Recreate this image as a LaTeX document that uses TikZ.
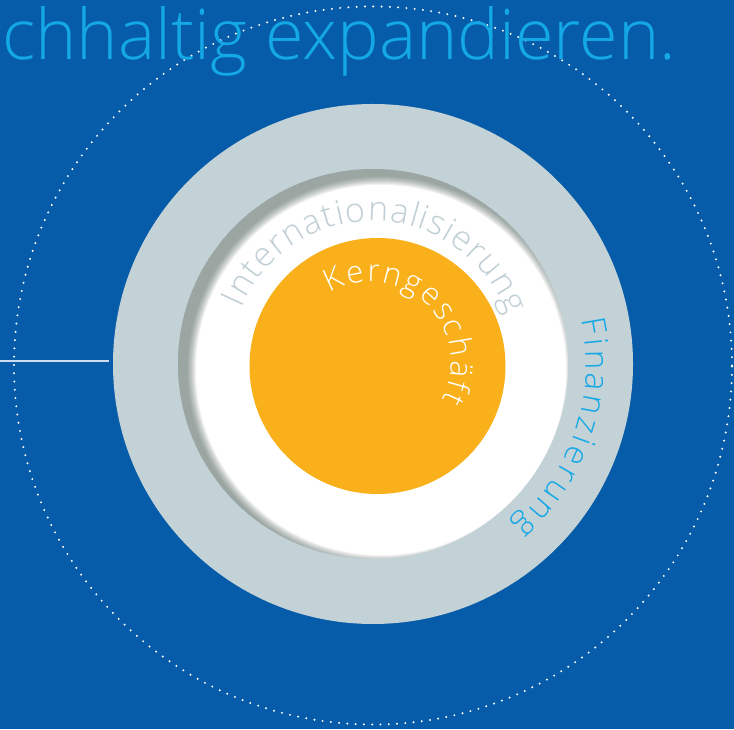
\documentclass[tikz,border=0pt]{standalone}
\usepackage{fontspec}
\usepackage{graphicx}
\newfontfamily\lightfont{Open Sans Light}
\usetikzlibrary{decorations.text}
\definecolor{bgblue}{RGB}{6,92,168}
\definecolor{ringgray}{RGB}{195,210,215}
\definecolor{orangec}{RGB}{249,176,27}
\definecolor{cyanc}{RGB}{20,168,230}
\definecolor{intgray}{RGB}{192,207,213}
\definecolor{shadowc}{RGB}{90,108,102}
\definecolor{linec}{RGB}{205,220,238}
\tikzset{
  disc/.style={circle, inner sep=0pt, draw=none},
  dotring/.style={circle, inner sep=0pt, draw=white, line width=2.2pt, line cap=round, dash pattern=on 0pt off 8.29pt},
  leftline/.style={draw=linec, line width=1.4pt},
  arctext/.style={decorate, decoration={text along path, text align={fit to path}, #1}}
}
\begin{document}
\begin{tikzpicture}[x=1pt,y=1pt]
\useasboundingbox (0,0) rectangle (734,729);
\fill[bgblue] (0,0) rectangle (734,729);
% dotted outer circle
\node[dotring, minimum size=718pt] (dots) at (373,363.5) {};
% title
\node[anchor=base west, inner sep=0pt, text=cyanc] (title) at (2,669)
  {\resizebox{674pt}{53pt}{\lightfont\fontsize{68}{80}\selectfont chhaltig expandieren.}};
% left line
\coordinate (lstart) at (0,368);
\coordinate (lend) at (109,368);
\draw[leftline] (lstart) -- (lend);
% grey ring and white disc
\node[disc, fill=ringgray, minimum size=520pt] (ring) at (373,365) {};
\node[disc, fill=white, minimum size=390pt] (inner) at (373,365) {};
% inner shadow
\begin{scope}
  \clip (373,365) circle (195);
  \foreach \s in {1,1.5,...,10} {
    \fill[shadowc, opacity=0.042, even odd rule] (373,365) circle (205) (381,359) circle ({195-\s});
  }
\end{scope}
% orange core
\node[disc, fill=orangec, minimum size=256pt] (core) at (377.5,363) {};
% curved texts
\path[arctext={text color=intgray, text={|\lightfont\fontsize{34}{40}\selectfont|Internationalisierung}}]
  ([shift={(157:143)}]373,365) arc[start angle=157, end angle=20, radius=143];
\path[arctext={text color=white, text={|\lightfont\fontsize{31}{37}\selectfont|Kerngeschäft}}]
  ([shift={(121:80)}]371,367) arc[start angle=121, end angle=-28, radius=80];
\path[arctext={text color=cyanc, text={|\lightfont\fontsize{33}{39}\selectfont|Finanzierung}}]
  ([shift={(12:213)}]373,365) arc[start angle=12, end angle=-49, radius=213];
\end{tikzpicture}
\end{document}
